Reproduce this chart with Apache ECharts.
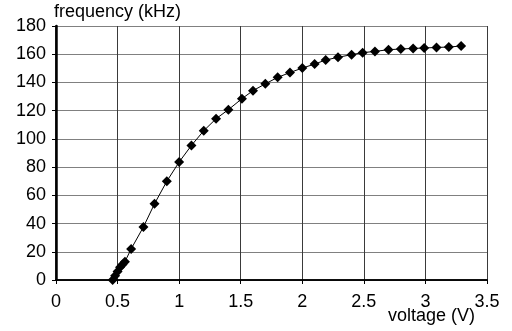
<!DOCTYPE html>
<html><head><meta charset="utf-8">
<script src="https://cdn.jsdelivr.net/npm/echarts@6/dist/echarts.min.js"></script>
<style>html,body{margin:0;padding:0;background:#fff}#c{width:512px;height:331px}</style>
</head><body><div id="c"></div>
<script>
const voltage = [0.46,0.48,0.50,0.52,0.54,0.56,0.61,0.71,0.80,0.90,1.00,1.10,1.20,1.30,1.40,1.51,1.60,1.70,1.80,1.90,2.00,2.10,2.19,2.29,2.40,2.49,2.59,2.70,2.80,2.90,2.99,3.09,3.19,3.29];
const frequency = [0,3,6,9,11,13,22,37.6,54,70,83.6,95.4,105.8,114.3,120.7,128.5,134.2,139,143.6,147,150.2,153,155.9,157.8,159.7,161.1,162,163.2,163.7,164.1,164.4,164.8,165.1,165.8];
const xTicks = {min:0, max:3.5, interval:0.5};
const yTicks = {min:0, max:180, interval:20};
const xName = 'voltage (V)';
const yName = 'frequency (kHz)';

const chart = echarts.init(document.getElementById('c'), null, {renderer:'canvas'});
const font = '"Liberation Sans", Arial, sans-serif';
chart.setOption({
  animation:false,
  grid:{left:56, right:25, top:26, bottom:51, containLabel:false, outerBoundsMode:'none'},
  graphic:[{
    type:'text', x:475, y:316,
    style:{text:xName, fontFamily:font, fontSize:18, fill:'#000', align:'right', verticalAlign:'middle'}
  }],
  xAxis:[{
    type:'value', min:xTicks.min, max:xTicks.max, interval:xTicks.interval,
    axisLine:{show:true, lineStyle:{color:'#000', width:1.5}},
    axisTick:{show:true, length:4, lineStyle:{color:'#000'}},
    axisLabel:{fontFamily:font, fontSize:18, color:'#000', margin:13},
    splitLine:{show:true, lineStyle:{color:'#3a3a3a', width:1}}
  },{
    type:'value', position:'top', min:xTicks.min, max:xTicks.max, interval:xTicks.interval,
    axisLine:{show:true, lineStyle:{color:'#000', width:1.5}},
    axisTick:{show:false}, axisLabel:{show:false}, splitLine:{show:false}
  }],
  yAxis:[{
    type:'value', min:yTicks.min, max:yTicks.max, interval:yTicks.interval,
    name:yName, nameLocation:'end', nameGap:14,
    nameTextStyle:{fontFamily:font, fontSize:18, color:'#000', align:'left', verticalAlign:'middle', padding:[0,0,0,-2]},
    axisLine:{show:true, lineStyle:{color:'#000', width:1.5}},
    axisTick:{show:true, length:4, lineStyle:{color:'#000'}},
    axisLabel:{fontFamily:font, fontSize:18, color:'#000', margin:10},
    splitLine:{show:true, lineStyle:{color:'#808080', width:1}}
  },{
    type:'value', position:'right', min:yTicks.min, max:yTicks.max, interval:yTicks.interval,
    axisLine:{show:true, lineStyle:{color:'#000', width:2.5}},
    axisTick:{show:false}, axisLabel:{show:false}, splitLine:{show:false}
  }],
  series:[{
    type:'line',
    data: voltage.map((v,i)=>[v, frequency[i]]),
    symbol:'diamond', symbolSize:10,
    itemStyle:{color:'#000'},
    lineStyle:{color:'#000', width:1},
    smooth:false
  }]
});
</script></body></html>
